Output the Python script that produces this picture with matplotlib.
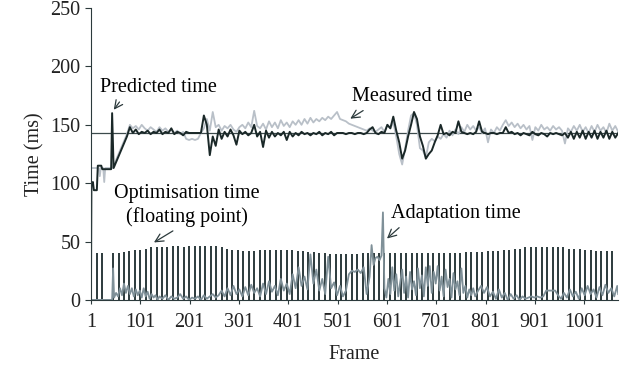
'''
Predicted vs measured frame time, with optimisation and adaptation cost per frame
'''
import matplotlib
matplotlib.use('Agg')
import matplotlib.pyplot as plt

# Predicted time (ms) as (frame, value)
predicted_pts = [
    (1, 0), (2, 100), (5, 101), (7, 94), (13, 94), (15, 115), (22, 115), (24, 112),
    (42, 112), (44, 160), (47, 113), (50, 116), (56, 122), (62, 128), (68, 134),
    (74, 140), (80, 148), (86, 143), (92, 146), (98, 142), (104, 144), (110, 143),
    (116, 145), (122, 142), (128, 144), (134, 143), (140, 146), (146, 142), (152, 144),
    (158, 143), (164, 147), (170, 142), (176, 144), (182, 143), (188, 141), (194, 144),
    (200, 143), (206, 143), (212, 143), (218, 143), (224, 143), (230, 158), (236, 150),
    (242, 124), (248, 140), (254, 132), (260, 146), (266, 138), (272, 144), (278, 140),
    (284, 146), (290, 141), (296, 133), (302, 145), (308, 142), (314, 144), (320, 141),
    (326, 143), (332, 150), (338, 140), (344, 144), (350, 131), (356, 145), (362, 139),
    (368, 144), (374, 140), (380, 143), (386, 141), (392, 144), (398, 137), (404, 144),
    (410, 140), (416, 143), (422, 141), (428, 144), (434, 142), (440, 143), (446, 141),
    (452, 143), (458, 142), (464, 144), (470, 141), (476, 143), (482, 142), (488, 144),
    (494, 141), (500, 143), (506, 143), (512, 143), (518, 142), (524, 143), (530, 143),
    (536, 142), (542, 143), (548, 143), (554, 142), (560, 143), (566, 146), (572, 148),
    (578, 143), (584, 142), (590, 144), (596, 143), (602, 150), (608, 147), (614, 157),
    (620, 145), (626, 135), (632, 121), (638, 128), (644, 140), (650, 150), (656, 161),
    (662, 155), (668, 140), (674, 132), (680, 121), (686, 125), (692, 128), (698, 135),
    (704, 141), (710, 150), (716, 142), (722, 143), (728, 141), (734, 144), (740, 143),
    (746, 153), (752, 144), (758, 143), (764, 142), (770, 143), (776, 142), (782, 144),
    (788, 153), (794, 144), (800, 143), (806, 142), (812, 143), (818, 143), (824, 142),
    (830, 143), (836, 143), (842, 148), (848, 143), (854, 144), (860, 142), (866, 143),
    (872, 141), (878, 143), (884, 142), (890, 141), (896, 144), (902, 142), (908, 141),
    (914, 143), (920, 142), (926, 140), (932, 143), (938, 142), (944, 143), (950, 142),
    (956, 141), (962, 143), (968, 139), (974, 144), (980, 138), (986, 144), (992, 139),
    (998, 145), (1004, 138), (1010, 144), (1016, 139), (1022, 145), (1028, 138),
    (1034, 144), (1040, 139), (1046, 145), (1052, 138), (1058, 144), (1064, 139),
    (1070, 143),
]

# Measured time (ms) as (frame, value)
measured_pts = [
    (1, 113), (17, 113), (19, 106), (21, 113), (26, 113), (28, 101), (30, 113),
    (45, 113), (50, 118), (56, 124), (62, 130), (68, 136), (74, 142), (80, 150),
    (86, 147), (92, 149), (98, 146), (104, 150), (110, 147), (116, 145), (122, 148),
    (128, 146), (134, 144), (140, 148), (146, 145), (152, 147), (158, 144), (164, 146),
    (170, 143), (176, 145), (182, 142), (188, 144), (194, 138), (200, 137), (206, 138),
    (212, 137), (218, 138), (224, 143), (230, 147), (236, 155), (242, 145), (248, 161),
    (254, 148), (260, 150), (266, 145), (272, 149), (278, 147), (284, 150), (290, 146),
    (296, 144), (302, 148), (308, 150), (314, 147), (320, 152), (326, 148), (332, 162),
    (338, 149), (344, 147), (350, 151), (356, 146), (362, 153), (368, 148), (374, 152),
    (380, 147), (386, 154), (392, 149), (398, 152), (404, 148), (410, 153), (416, 150),
    (422, 154), (428, 150), (434, 155), (440, 151), (446, 156), (452, 152), (458, 155),
    (464, 153), (470, 156), (476, 154), (482, 157), (488, 155), (494, 158), (500, 161),
    (506, 155), (512, 154), (518, 153), (524, 151), (530, 150), (536, 149), (542, 148),
    (548, 147), (554, 146), (560, 145), (566, 147), (572, 145), (578, 144), (584, 146),
    (590, 148), (596, 144), (602, 150), (608, 147), (614, 152), (620, 140), (626, 125),
    (632, 116), (638, 130), (644, 145), (650, 158), (656, 160), (662, 150), (668, 130),
    (674, 128), (680, 122), (686, 135), (692, 138), (698, 136), (704, 140), (710, 138),
    (716, 142), (722, 139), (728, 145), (734, 141), (740, 146), (746, 142), (752, 148),
    (758, 144), (764, 150), (770, 146), (776, 149), (782, 145), (788, 148), (794, 143),
    (800, 147), (806, 135), (812, 146), (818, 143), (824, 148), (830, 145), (836, 150),
    (842, 154), (848, 149), (854, 152), (860, 148), (866, 151), (872, 147), (878, 150),
    (884, 146), (890, 149), (896, 137), (902, 148), (908, 145), (914, 150), (920, 146),
    (926, 148), (932, 145), (938, 149), (944, 146), (950, 148), (956, 145), (962, 134),
    (968, 147), (974, 144), (980, 149), (986, 145), (992, 150), (998, 144), (1004, 148),
    (1010, 143), (1016, 149), (1022, 144), (1028, 150), (1034, 145), (1040, 148),
    (1046, 143), (1052, 151), (1058, 145), (1064, 149), (1070, 144),
]

# Optimisation time spikes (ms) as (frame, height)
optimisation_pts = [
    (13, 40), (24, 40), (46, 40), (57, 40), (68, 41), (79, 42), (90, 43), (101, 43),
    (112, 44), (123, 45), (134, 45), (145, 45), (156, 45), (167, 46), (178, 46),
    (189, 45), (200, 46), (211, 46), (222, 46), (233, 46), (244, 46), (255, 46),
    (266, 45), (277, 44), (288, 43), (299, 43), (310, 42), (321, 42), (332, 42),
    (343, 43), (354, 43), (365, 43), (376, 43), (387, 43), (398, 43), (409, 43),
    (420, 42), (431, 42), (442, 41), (453, 41), (464, 40), (475, 40), (486, 39),
    (497, 39), (508, 39), (519, 39), (530, 39), (541, 39), (552, 40), (563, 40),
    (574, 40), (585, 40), (596, 40), (607, 40), (618, 40), (629, 40), (640, 40),
    (651, 40), (662, 40), (673, 40), (684, 40), (695, 40), (706, 40), (717, 40),
    (728, 40), (739, 40), (750, 40), (761, 41), (772, 41), (783, 41), (794, 41),
    (805, 42), (816, 42), (827, 42), (838, 43), (849, 43), (860, 44), (871, 44),
    (882, 45), (893, 45), (904, 45), (915, 45), (926, 45), (937, 45), (948, 45),
    (959, 45), (970, 44), (981, 44), (992, 44), (1003, 43), (1014, 43), (1025, 42),
    (1036, 42), (1047, 42), (1058, 42),
]

# Adaptation time (ms) as (frame, value)
adaptation_pts = [
    (1, 0), (44, 0), (46, 27), (48, 2), (52, 6), (56, 3), (60, 10), (64, 4), (68, 14),
    (72, 6), (76, 12), (80, 5), (84, 10), (88, 3), (92, 9), (96, 4), (100, 8), (104, 2),
    (108, 10), (112, 3), (116, 7), (120, 1), (124, 5), (128, 2), (132, 4), (136, 0),
    (140, 3), (146, 1), (152, 4), (158, 0), (164, 3), (170, 1), (176, 2), (182, 5),
    (188, 1), (194, 3), (200, 0), (206, 2), (212, 1), (218, 3), (224, 0), (230, 4),
    (236, 1), (242, 3), (248, 5), (254, 2), (260, 4), (266, 8), (272, 3), (278, 10),
    (284, 4), (290, 12), (296, 5), (302, 9), (308, 3), (314, 11), (320, 4), (326, 13),
    (332, 6), (338, 10), (344, 3), (350, 14), (356, 5), (362, 16), (368, 7), (374, 12),
    (380, 4), (386, 18), (392, 8), (398, 14), (404, 5), (410, 22), (416, 10), (422, 28),
    (428, 12), (434, 20), (440, 9), (446, 39), (452, 14), (458, 26), (464, 8), (470, 18),
    (476, 5), (482, 37), (488, 10), (494, 15), (500, 4), (506, 12), (512, 3), (518, 8),
    (524, 22), (530, 25), (536, 24), (542, 26), (548, 23), (554, 28), (560, 5), (566, 20),
    (570, 47), (574, 30), (578, 36), (582, 37), (586, 34), (590, 38), (593, 75), (596, 10),
    (600, 2), (604, 18), (608, 5), (612, 28), (616, 8), (620, 22), (624, 3), (628, 15),
    (632, 26), (636, 6), (640, 20), (644, 2), (648, 24), (652, 9), (656, 16), (660, 4),
    (664, 27), (668, 10), (672, 21), (676, 3), (680, 28), (684, 12), (688, 29), (692, 6),
    (696, 24), (700, 14), (704, 29), (708, 8), (712, 20), (716, 3), (720, 26), (724, 11),
    (728, 18), (732, 2), (736, 23), (740, 9), (744, 16), (748, 4), (752, 27), (756, 6),
    (760, 12), (764, 2), (768, 9), (772, 4), (776, 10), (780, 3), (786, 8), (792, 12),
    (798, 6), (804, 11), (810, 3), (816, 7), (822, 1), (828, 9), (834, 2), (840, 6),
    (846, 0), (852, 5), (858, 1), (864, 4), (870, 0), (876, 3), (882, 1), (888, 2),
    (894, 3), (900, 2), (906, 3), (912, 2), (918, 3), (924, 8), (930, 8), (936, 8),
    (942, 8), (948, 4), (954, 1), (960, 6), (966, 2), (972, 9), (978, 3), (984, 7),
    (990, 1), (996, 10), (1002, 4), (1008, 12), (1014, 5), (1020, 9), (1026, 2),
    (1032, 11), (1038, 4), (1044, 13), (1050, 6), (1056, 10), (1062, 3), (1068, 12),
    (1070, 5),
]

target_time = 143
x_ticks = [1, 101, 201, 301, 401, 501, 601, 701, 801, 901, 1001]
y_ticks = [0, 50, 100, 150, 200, 250]

plt.rcParams['font.family'] = ['Liberation Serif', 'DejaVu Serif']
plt.rcParams['font.size'] = 14.5

fig = plt.figure(figsize=(6.27, 3.68), dpi=100)
ax = fig.add_axes([0.145, 0.185, 0.841, 0.793])

# Lower series: optimisation spikes, then adaptation on top
opt_f, opt_h = zip(*optimisation_pts)
ax.vlines(opt_f, 0, opt_h, color='#2c3a3c', linewidth=1.4)
ad_f, ad_v = zip(*adaptation_pts)
ax.plot(ad_f, ad_v, color='#7f9098', linewidth=1.3)

# Upper series
ax.axhline(target_time, color='#3c4a4c', linewidth=0.9)
m_f, m_v = zip(*measured_pts)
ax.plot(m_f, m_v, color='#b9c0c8', linewidth=1.3)
p_f, p_v = zip(*predicted_pts)
ax.plot(p_f, p_v, color='#1a2828', linewidth=1.4)

arrow = dict(arrowstyle='->', color='#2c3a3c', linewidth=0.9)
ax.annotate('Predicted time', xy=(44, 161), xytext=(19, 182),
            va='center', ha='left', arrowprops=dict(arrow, relpos=(0.2, 0.0)))
ax.annotate('Measured time', xy=(522, 154), xytext=(530, 174),
            va='center', ha='left', arrowprops=dict(arrow, relpos=(0.15, 0.0)))
ax.annotate('Optimisation time\n(floating point)', xy=(124, 48), xytext=(196, 81),
            va='center', ha='center', linespacing=1.25,
            arrowprops=dict(arrow, relpos=(0.45, 0.0)))
ax.annotate('Adaptation time', xy=(597, 51), xytext=(610, 74),
            va='center', ha='left', arrowprops=dict(arrow, relpos=(0.1, 0.0)))

ax.set_xlim(1, 1070)
ax.set_ylim(0, 250)
ax.set_xticks(x_ticks)
ax.set_yticks(y_ticks)
ax.spines['top'].set_visible(False)
ax.spines['right'].set_visible(False)
for side in ('left', 'bottom'):
    ax.spines[side].set_color('#2c3a3c')
ax.tick_params(direction='out', length=4, color='#2c3a3c', labelcolor='#222222')
ax.tick_params(axis='x', length=3, pad=6.5)

ax.set_xlabel('Frame', color='#222222', labelpad=9)
ax.set_ylabel('Time (ms)', color='#222222')

fig.savefig('out.png', dpi=100)
